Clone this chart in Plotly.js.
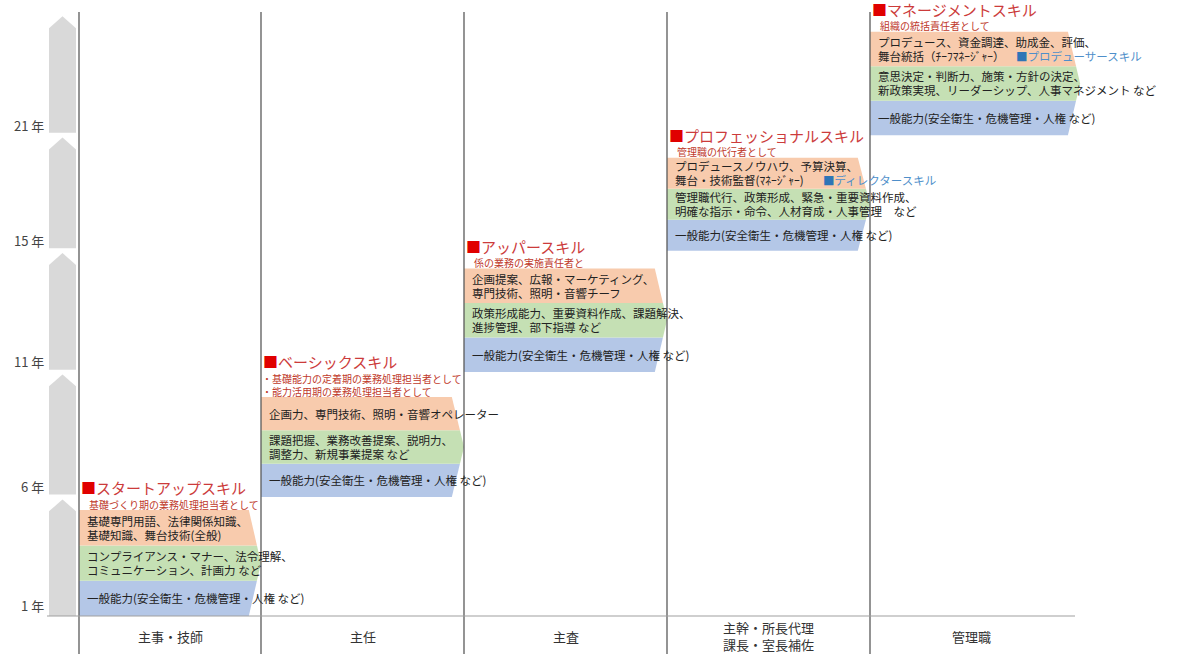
<!DOCTYPE html>
<html><head><meta charset="utf-8">
<script src="https://cdn.plot.ly/plotly-3.0.1.min.js"></script>
<style>html,body{margin:0;padding:0;background:#fff}#chart{width:1183px;height:654px}</style>
</head><body><div id="chart"></div>
<script>
// ---- data ----
const positions = ['主事・技師', '主任', '主査', '主幹・所長代理<br>課長・室長補佐', '管理職'];
const yearLabels = ['1 年', '6 年', '11 年', '15 年', '21 年'];
const skillNames = ['スタートアップスキル', 'ベーシックスキル', 'アッパースキル', 'プロフェッショナルスキル', 'マネージメントスキル'];
const roleLines = [
  ['基礎づくり期の業務処理担当者として'],
  ['・基礎能力の定着期の業務処理担当者として', '・能力活用期の業務処理担当者として'],
  ['係の業務の実施責任者と'],
  ['管理職の代行者として'],
  ['組織の統括責任者として']
];
const specialSkills = [
  ['基礎専門用語、法律関係知識、', '基礎知識、舞台技術(全般)'],
  ['企画力、専門技術、照明・音響オペレーター'],
  ['企画提案、広報・マーケティング、', '専門技術、照明・音響チーフ'],
  ['プロデュースノウハウ、予算決算、', '舞台・技術監督(ﾏﾈｰｼﾞｬｰ)'],
  ['プロデュース、資金調達、助成金、評価、', '舞台統括（ﾁｰﾌﾏﾈｰｼﾞｬｰ）']
];
const businessSkills = [
  ['コンプライアンス・マナー、法令理解、', 'コミュニケーション、計画力 など'],
  ['課題把握、業務改善提案、説明力、', '調整力、新規事業提案 など'],
  ['政策形成能力、重要資料作成、課題解決、', '進捗管理、部下指導 など'],
  ['管理職代行、政策形成、緊急・重要資料作成、', '明確な指示・命令、人材育成・人事管理　など'],
  ['意思決定・判断力、施策・方針の決定、', '新政策実現、リーダーシップ、人事マネジメント など']
];
const generalSkills = [
  '一般能力(安全衛生・危機管理・人権 など)',
  '一般能力(安全衛生・危機管理・人権 など)',
  '一般能力(安全衛生・危機管理・人権 など)',
  '一般能力(安全衛生・危機管理・人権 など)',
  '一般能力(安全衛生・危機管理・人権 など)'
];
const extraSkills = ['', '', '', 'ディレクタースキル', 'プロデューサースキル'];

// ---- geometry / style (column units on x, step units on y) ----
const FONT = '"Noto Sans CJK JP", "Noto Sans CJK SC", sans-serif';
const pxX = 1 / 203, pxY = 1 / 119;
const leftEdge = 21 * pxX;
const stepBase = [0, 1.0, 2.05, 3.07, 4.04];
const blockH = [0.89, 0.84, 0.87, 0.78, 0.87];
const blockRight = [0.94, 0.94, 0.94, 0.94, 0.975];
const tipLen = 0.06;
const extraX = [0, 0, 0, 0.764, 0.714];
const colors = { orange: '#f8cbad', green: '#c5e0b4', blue: '#b4c7e7', arrow: '#d9d9d9' };
const LINE = 14 * pxY;

const traces = [], shapes = [], ann = [];
function note(x, y, text, font, xanchor) {
  ann.push({ x, y, text, xanchor: xanchor || 'left', yanchor: 'middle', align: 'left', showarrow: false, borderpad: 0, font });
}

// year arrows
yearLabels.forEach((lab, k) => {
  const xl = -9 * pxX, xr = 18 * pxX, xc = (xl + xr) / 2;
  const yb = k === 0 ? 0 : stepBase[k] + 0.02;
  const yt = k < yearLabels.length - 1 ? stepBase[k + 1] - 0.02 : stepBase[k] + 1.0;
  const ys = yt - 0.1;
  traces.push({ x: [xl, xr, xr, xc, xl, xl], y: [yb, yb, ys, yt, ys, yb], fill: 'toself', fillcolor: colors.arrow,
    line: { width: 0 }, mode: 'lines', hoverinfo: 'skip', showlegend: false });
  note(-13 * pxX, stepBase[k] + 0.085, lab, { size: 13, color: '#444', family: FONT }, 'right');
});

function bandPoly(x0, xr, xt, yb, yt, y0, y1) {
  const ym = (yb + yt) / 2, half = (yt - yb) / 2;
  const rx = y => xr + (xt - xr) * (1 - Math.abs(y - ym) / half);
  const xs = [x0, rx(y0)], ys = [y0, y0];
  if (y0 < ym && ym < y1) { xs.push(xt); ys.push(ym); }
  xs.push(rx(y1), x0, x0); ys.push(y1, y1, y0);
  return { xs, ys };
}

function lines(x, yc, arr, font) {
  const n = arr.length;
  arr.forEach((t, j) => note(x, yc + ((n - 1) / 2 - j) * LINE, t, font));
}

skillNames.forEach((name, i) => {
  const x0 = i === 0 ? leftEdge : i;
  const xr = i + blockRight[i], xt = xr + tipLen;
  const yb = stepBase[i], yt = yb + blockH[i], th = blockH[i] / 3;
  const bands = [[colors.blue, yb, yb + th], [colors.green, yb + th, yb + 2 * th], [colors.orange, yb + 2 * th, yt]];
  bands.forEach(([c, y0, y1]) => {
    const p = bandPoly(x0, xr, xt, yb, yt, y0, y1);
    traces.push({ x: p.xs, y: p.ys, fill: 'toself', fillcolor: c, line: { width: 0 }, mode: 'lines',
      hoverinfo: 'skip', showlegend: false });
  });
  const tx = x0 + 7 * pxX;
  const bodyFont = { size: 11.5, color: '#222', family: FONT };
  const oc = yb + 2.5 * th;
  lines(tx, oc, specialSkills[i], bodyFont);
  lines(tx, yb + 1.5 * th, businessSkills[i], bodyFont);
  lines(tx, yb + 0.5 * th, [generalSkills[i]], bodyFont);
  // role lines
  const n = roleLines[i].length;
  roleLines[i].forEach((ln, j) => {
    const yy = yt + (6 + 13 * (n - 1 - j)) * pxY;
    const off = ln.startsWith('・') ? 0 : 9;
    note(x0 + off * pxX, yy, ln, { size: 10, color: '#c0392b', family: FONT });
  });
  const titleY = yt + (6 + 13 * (n - 1) + 16.5) * pxY;
  note(x0 + 1 * pxX, titleY, '<span style="color:#e00000">■</span>' + name, { size: 15, color: '#cc3b3b', family: FONT });
  if (extraSkills[i]) {
    note(i + extraX[i], oc - LINE / 2, '<span style="color:#2e75b6">■</span>' + extraSkills[i],
      { size: 11.5, color: '#4f8fca', family: FONT });
  }
  // column label
  ann.push({ x: (x0 + i + 1) / 2, y: -20 * pxY, text: positions[i], xanchor: 'center', yanchor: 'middle', showarrow: false,
    borderpad: 0, font: { size: 13, color: '#333', family: FONT } });
});

// column lines
[leftEdge, 1, 2, 3, 4].forEach(x => {
  shapes.push({ type: 'line', xref: 'x', yref: 'y', x0: x, x1: x, y0: -38 * pxY, y1: 604 * pxY,
    line: { color: '#5a5a5a', width: 1.3 }, layer: 'above' });
});
shapes.push({ type: 'line', xref: 'x', yref: 'y', x0: -11 * pxX, x1: 1017 * pxX, y0: 0, y1: 0,
  line: { color: '#a0a0a0', width: 1.2 }, layer: 'above' });

const layout = {
  width: 1183, height: 654,
  margin: { l: 0, r: 0, t: 0, b: 0 },
  paper_bgcolor: '#fff', plot_bgcolor: '#fff',
  xaxis: { range: [-58 * pxX, 1125 * pxX], visible: false, fixedrange: true },
  yaxis: { range: [-38 * pxY, 616 * pxY], visible: false, fixedrange: true },
  shapes: shapes, annotations: ann, showlegend: false,
  font: { family: FONT }
};
Plotly.newPlot('chart', traces, layout, { displayModeBar: false, staticPlot: true });
</script>
</body></html>
